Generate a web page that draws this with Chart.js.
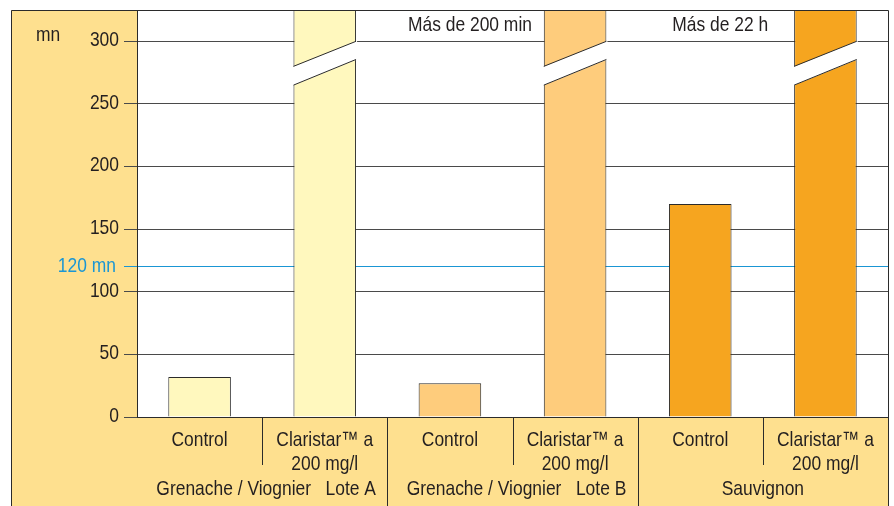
<!DOCTYPE html>
<html lang="es">
<head>
<meta charset="UTF-8">
<title>Claristar - estabilidad tartárica</title>
<script src="https://cdn.jsdelivr.net/npm/chart.js"></script>
<style>
  body { margin: 0; background: #fff; }
  #wrap { width: 894px; height: 506px; }
</style>
</head>
<body>
<div id="wrap"><canvas id="grafico" width="894" height="506"></canvas></div>
<script>
// datos
const categorias = [['Control'], ['Claristar™ a', '200 mg/l'], ['Control'], ['Claristar™ a', '200 mg/l'], ['Control'], ['Claristar™ a', '200 mg/l']];
const grupos = ['Grenache / Viognier   Lote A', 'Grenache / Viognier   Lote B', 'Sauvignon'];
const valores = [32, 325, 27, 325, 170, 325]; // 325 = tope del eje (barras cortadas)
const cortadas = [false, true, false, true, false, true];
const notas = [null, null, null, 'Más de 200 min', null, 'Más de 22 h'];
const ticksY = [0, 50, 100, 150, 200, 250, 300];
const lineaRef = 120;
const etiquetaRef = '120 mn';
const unidad = 'mn';

const coloresBarras = ['#fff8be', '#fff8be', '#fecc7c', '#fecc7c', '#f6a51f', '#f6a51f'];
const amarillo = '#fee08f';
const oscuro = '#2b2b2b';
const azul = '#1a96d4';
const fuente = "21px 'Liberation Sans', Arial, sans-serif";

// texto estrecho (tipo Helvetica Condensed)
function texto(ctx, t, x, y, align, color) {
  ctx.save();
  ctx.translate(x, y);
  ctx.scale(0.83, 1);
  ctx.font = fuente;
  ctx.fillStyle = color || '#231f20';
  ctx.textAlign = align || 'center';
  ctx.textBaseline = 'middle';
  ctx.fillText(t, 0, 0);
  ctx.restore();
}

// fondo amarillo, marco, etiquetas
const decorado = {
  id: 'decorado',
  beforeDraw(chart) {
    const { ctx, chartArea: a } = chart;
    ctx.save();
    ctx.fillStyle = amarillo;
    ctx.fillRect(11, 10, a.left - 11, chart.height - 10);
    ctx.fillRect(a.left, a.bottom, a.right - a.left, chart.height - a.bottom);
    ctx.restore();
  },
  afterDatasetsDraw(chart) {
    const { ctx } = chart;
    const y = chart.scales.y;
    const meta = chart.getDatasetMeta(0);
    ctx.save();
    meta.data.forEach((bar, i) => {
      if (!cortadas[i]) return;
      const L = bar.x - bar.width / 2, R = bar.x + bar.width / 2;
      ctx.fillStyle = '#fff';
      ctx.beginPath();
      ctx.moveTo(L - 1, y.getPixelForValue(279.5));
      ctx.lineTo(R + 1, y.getPixelForValue(300.5));
      ctx.lineTo(R + 1, y.getPixelForValue(285.5));
      ctx.lineTo(L - 1, y.getPixelForValue(264.5));
      ctx.closePath();
      ctx.fill();
      ctx.strokeStyle = oscuro;
      ctx.lineWidth = 1;
      ctx.beginPath();
      ctx.moveTo(L, y.getPixelForValue(280));
      ctx.lineTo(R, y.getPixelForValue(300));
      ctx.moveTo(L, y.getPixelForValue(265));
      ctx.lineTo(R, y.getPixelForValue(285.5));
      ctx.stroke();
    });
    ctx.restore();
  },
  afterDraw(chart) {
    const { ctx, chartArea: a } = chart;
    const x = chart.scales.x, y = chart.scales.y;
    const paso = (a.right - a.left) / categorias.length;
    ctx.save();
    ctx.strokeStyle = oscuro;
    ctx.lineWidth = 1;
    // marco
    ctx.beginPath();
    ctx.moveTo(11.5, chart.height);
    ctx.lineTo(11.5, 10.5);
    ctx.lineTo(a.right + 0.5, 10.5);
    ctx.lineTo(a.right + 0.5, chart.height);
    ctx.moveTo(a.left, Math.round(a.bottom) + 0.5);
    ctx.lineTo(a.right, Math.round(a.bottom) + 0.5);
    ctx.stroke();
    // separadores
    ctx.beginPath();
    for (let i = 1; i < categorias.length; i++) {
      const sx = Math.round(a.left + paso * i) + 0.5;
      ctx.moveTo(sx, a.bottom);
      ctx.lineTo(sx, i % 2 === 0 ? chart.height : a.bottom + 48);
    }
    ctx.stroke();
    ctx.restore();
    // etiquetas del eje y
    ticksY.forEach(v => texto(ctx, String(v), a.left - 18, y.getPixelForValue(v) - 1, 'right'));
    texto(ctx, etiquetaRef, a.left - 21, y.getPixelForValue(lineaRef) - 1, 'right', azul);
    texto(ctx, unidad, 48, 35);
    // categorías y grupos
    categorias.forEach((lineas, i) => {
      const cx = x.getPixelForValue(i);
      lineas.forEach((t, k) => texto(ctx, t, cx, a.bottom + 23 + k * 24));
    });
    grupos.forEach((g, j) => {
      const cx = a.left + paso * (2 * j + 1);
      texto(ctx, g, cx + (j < 2 ? 4 : 0), a.bottom + 72);
    });
    notas.forEach((t, i) => {
      if (!t) return;
      texto(ctx, t, x.getPixelForValue(i) - paso * 0.84, y.getPixelForValue(312.5));
    });
  }
};

new Chart(document.getElementById('grafico'), {
  type: 'bar',
  data: {
    labels: categorias,
    datasets: [{
      data: valores,
      backgroundColor: coloresBarras,
      borderColor: oscuro,
      borderWidth: 1,
      borderSkipped: 'bottom',
      categoryPercentage: 1,
      barPercentage: 0.5
    }]
  },
  options: {
    responsive: false,
    animation: false,
    events: [],
    layout: { padding: { left: 11, top: 10, right: 6, bottom: 89 } },
    plugins: { legend: { display: false }, tooltip: { enabled: false } },
    scales: {
      x: { display: false },
      y: {
        min: 0,
        max: 325,
        afterBuildTicks(scale) {
          scale.ticks = ticksY.concat([lineaRef]).map(v => ({ value: v }));
        },
        afterFit(scale) { scale.width = 126; },
        border: { display: true, color: oscuro, width: 1 },
        grid: {
          color: c => c.tick && c.tick.value === lineaRef ? azul : '#4a4a4a',
          lineWidth: 1,
          tickLength: 13
        },
        ticks: { display: false }
      }
    }
  },
  plugins: [decorado]
});
</script>
</body>
</html>
